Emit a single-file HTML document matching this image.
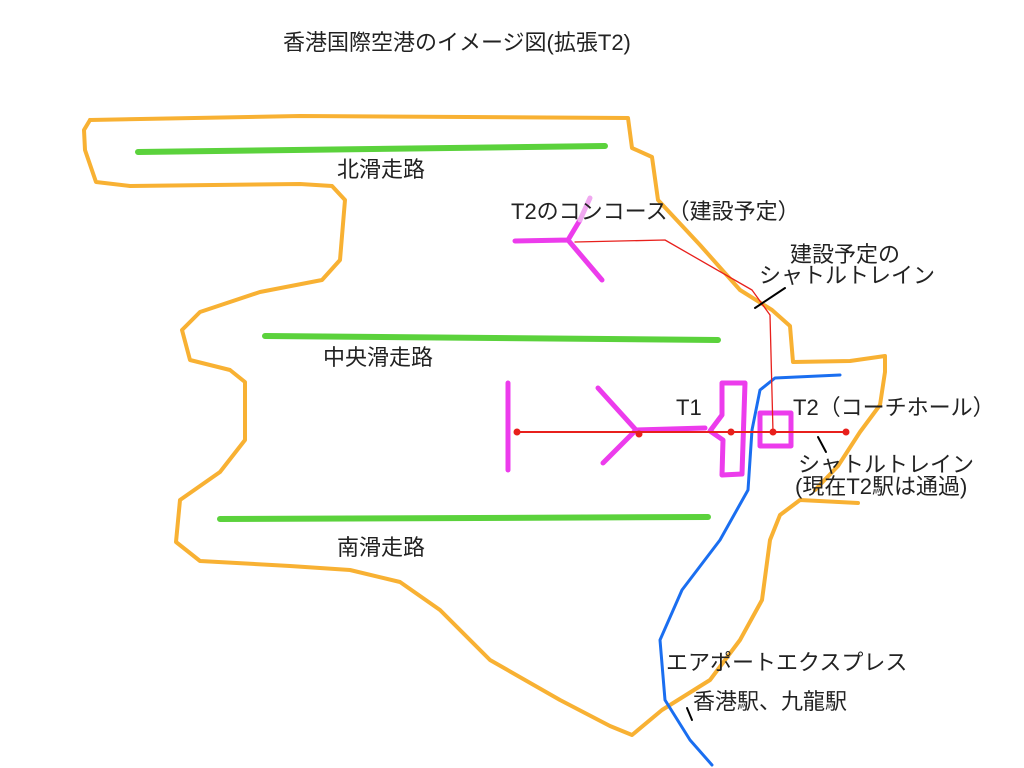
<!DOCTYPE html>
<html><head><meta charset="utf-8"><style>
html,body{margin:0;padding:0;background:#fff;}
svg{display:block;}
text{font-family:"Liberation Sans","Noto Sans CJK JP",sans-serif;font-size:22px;fill:#222;}
</style></head><body>
<svg width="1024" height="768" viewBox="0 0 1024 768" xmlns="http://www.w3.org/2000/svg">
<g fill="none" stroke-linecap="round" stroke-linejoin="round">
<path d="M90,120 L300,116 L628,118 L632,148 L652,157 L658,200 L700,245 L740,290 L772,310 L790,326 L793,362 L850,361 L885,356 L885,372 L880,405 L860,432 L838,466 L815,490" stroke="#f8b133" stroke-width="4"/>
<path d="M858,503 L800,500 L780,515 L770,540 L762,600 L740,640 L710,680 L662,710 L632,735 L610,726 L560,700 L490,660 L440,610 L400,582 L350,570 L290,566 L200,561 L176,542 L180,500 L220,472 L245,440 L245,382 L230,370 L190,360 L182,330 L200,312 L260,292 L322,280 L340,260 L345,200 L332,186 L300,184 L130,186 L96,182 L85,150 L84,130 L90,120" stroke="#f8b133" stroke-width="4"/>
<path d="M840,375 L775,378 L760,390 L752,430 L748,490 L720,540 L682,590 L660,640 L665,700 L690,740 L712,765" stroke="#1a6ef0" stroke-width="3"/>
<g stroke="#5bd23c" stroke-width="6">
<path d="M138,152 L605,146"/><path d="M265,336 L718,340"/><path d="M220,519 L708,517"/>
</g>
<g stroke="#ec3cec" stroke-width="5">
<path d="M508,383 L508,470"/>
<path d="M598,388 L636,430 L603,463 M636,430 L705,428"/>
<path d="M722,383 L745,383 L742,474 L722,475 L723,440 L710,431 L722,415 Z"/>
<path d="M760,413 L791,413 L791,446 L760,446 Z"/>
<path d="M515,241 L568,240 L602,280 M568,240 L580,220"/>
</g>
<path d="M580,220 L590,198" stroke="#f0a8f0" stroke-width="5"/>
<path d="M517,432 L846,432" stroke="#e8201c" stroke-width="2"/>
<path d="M773,432 L770,315 L752,290 L665,240 L575,242" stroke="#e8201c" stroke-width="1.3"/>
<g fill="#e8201c"><circle cx="517" cy="432" r="3.5"/><circle cx="639" cy="434" r="3.5"/><circle cx="731" cy="432" r="3.5"/><circle cx="773" cy="432" r="3.5"/><circle cx="846" cy="432" r="3.5"/></g>
<g stroke="#000" stroke-width="2"><path d="M755,308 L785,288"/><path d="M818,437 L826,452"/><path d="M687,708 L692,720"/></g>
</g>
<text x="283" y="50">香港国際空港のイメージ図(拡張T2)</text>
<text x="337" y="177">北滑走路</text>
<text x="323" y="365">中央滑走路</text>
<text x="337" y="555">南滑走路</text>
<text x="511" y="219">T2のコンコース（建設予定）</text>
<text x="790" y="262">建設予定の</text>
<text x="759" y="283">シャトルトレイン</text>
<text x="676" y="415">T1</text>
<text x="793" y="415">T2（コーチホール）</text>
<text x="798" y="472">シャトルトレイン</text>
<text x="795" y="494">(現在T2駅は通過)</text>
<text x="666" y="670">エアポートエクスプレス</text>
<text x="693" y="709">香港駅、九龍駅</text>
</svg>
</body></html>
